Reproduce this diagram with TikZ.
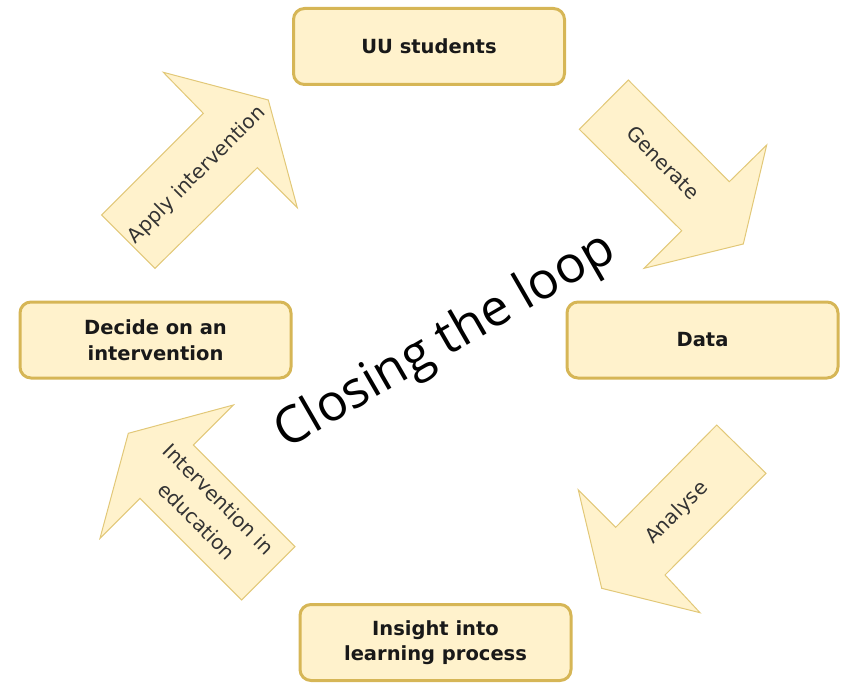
\documentclass[tikz,border=0pt]{standalone}
\usepackage{fontspec}
\setmainfont{DejaVu Sans}
\newfontfamily\loopfont{Open Sans}
\definecolor{boxfill}{HTML}{FFF2CC}
\definecolor{boxdraw}{HTML}{D6B656}
\definecolor{arrowdraw}{HTML}{E2C878}
\definecolor{labtext}{HTML}{333333}
\begin{document}
\begin{tikzpicture}[x=1pt,y=-1pt,
  box/.style={draw=boxdraw, line width=3pt, fill=boxfill, rounded corners=11pt,
    minimum width=271pt, minimum height=76pt, align=center,
    font=\fontsize{19.5}{25.5}\selectfont\bfseries, text=black!90},
  fatarrow/.style={draw=arrowdraw, line width=1pt, fill=boxfill, line join=miter},
  arrowlabel/.style={align=center, font=\fontsize{20}{31}\selectfont, text=labtext}
]
\useasboundingbox (0,0) rectangle (844,685);

% boxes
\node[box] (uu) at (429,46.5) {UU students};
\node[box] (data) at (702.5,340) {Data};
\node[box] (decide) at (155.5,340) {Decide on an\\intervention};
\node[box] (insight) at (435.5,642.5) {Insight into\\learning process};

% fat arrows
\draw[fatarrow] (579.3,129.3) -- (628.3,80) -- (729.3,181.7) -- (766.7,145)
  -- (743.3,244) -- (644,268.3) -- (681.7,230.7) -- cycle;
\draw[fatarrow] (716.7,425) -- (766,473.3) -- (665,575) -- (700,612.7)
  -- (601.7,588.3) -- (578.3,490) -- (615.7,527.3) -- cycle;
\draw[fatarrow] (128.3,433.3) -- (233.3,405) -- (193.3,445) -- (295,546.7)
  -- (241.7,600) -- (140,498.3) -- (100,538.3) -- cycle;
\draw[fatarrow] (101.7,215) -- (203.3,113.3) -- (163.3,72.3) -- (268.3,100)
  -- (297.3,207.7) -- (257.3,167.7) -- (155,268.3) -- cycle;

% arrow labels
\node[arrowlabel, rotate=-45] (lgen) at (663.3,162.7) {Generate};
\node[arrowlabel, rotate=45] (lana) at (677,513) {Analyse};
\node[arrowlabel, rotate=-45] (lint) at (208,510) {Intervention in\\education};
\node[arrowlabel, rotate=45] (lapp) at (197,175) {Apply intervention};

% title
\node[font=\loopfont\fontsize{51}{51}\selectfont, rotate=30] (title) at (446,342) {Closing the loop};
\end{tikzpicture}
\end{document}
